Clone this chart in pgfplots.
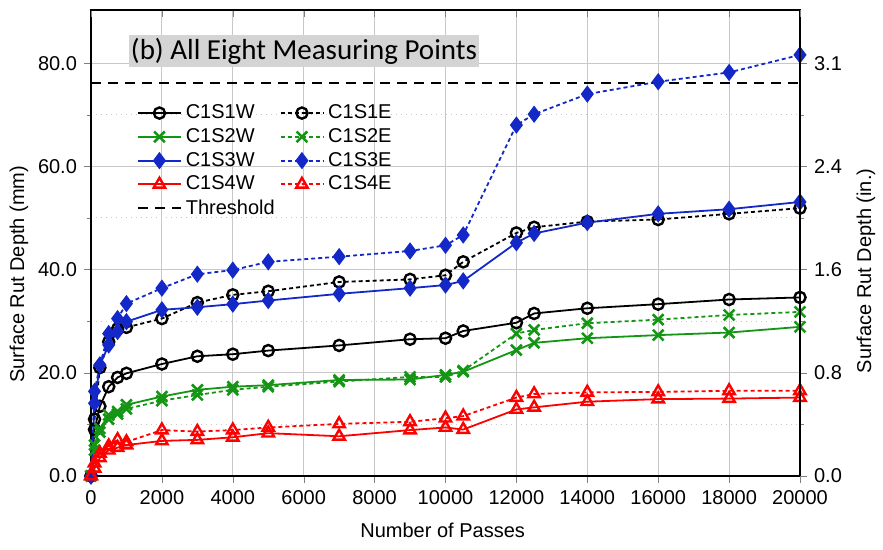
\documentclass[border=0pt]{standalone}
\usepackage{pgfplots}
\pgfplotsset{compat=1.18}
\usepackage{pgfplotstable}
\usetikzlibrary{calc}
\usepackage{fontspec}
\setmainfont{Liberation Sans}
\newfontfamily\calibri{Carlito}
\definecolor{cblack}{RGB}{0,0,0}
\definecolor{cgreen}{RGB}{20,150,20}
\definecolor{cblue}{RGB}{20,40,200}
\definecolor{cred}{RGB}{255,0,0}
\definecolor{gridgray}{RGB}{200,200,200}
\definecolor{titlegray}{RGB}{212,212,212}

\pgfplotstableread{
x S1W S1E S2W S2E S3W S3E S4W S4E
0 0 0 0 0 0 0 0 0
100 9.0 11.0 6.0 5.0 14.1 16.4 1.5 2.5
250 13.5 21.0 9.2 8.5 21.5 21.5 3.5 4.4
500 17.3 26.0 11.8 11.0 25.4 27.6 5.0 5.8
750 19.1 28.5 12.5 12.0 28.0 30.5 5.5 7.0
1000 19.9 28.8 13.8 13.0 29.9 33.4 6.0 6.6
2000 21.7 30.5 15.4 14.6 32.2 36.4 6.8 8.9
3000 23.2 33.6 16.7 15.7 32.7 39.1 7.0 8.6
4000 23.6 35.1 17.3 16.7 33.3 39.9 7.5 8.9
5000 24.3 35.8 17.6 17.3 34.0 41.5 8.3 9.4
7000 25.3 37.6 18.6 18.3 35.3 42.5 7.7 10.1
9000 26.5 38.1 18.7 19.2 36.4 43.6 8.9 10.5
10000 26.7 38.9 19.6 19.2 37.0 44.7 9.4 11.2
10500 28.1 41.5 20.2 20.4 37.8 46.7 9.0 11.6
12000 29.7 47.1 24.4 27.6 45.2 68.0 12.9 15.2
12500 31.5 48.2 25.8 28.3 47.0 70.1 13.3 15.9
14000 32.5 49.3 26.7 29.6 49.1 74.0 14.4 16.2
16000 33.3 49.7 27.3 30.3 50.8 76.4 14.9 16.3
18000 34.2 50.8 27.8 31.2 51.7 78.2 15.0 16.5
20000 34.6 51.9 28.9 31.8 53.1 81.6 15.2 16.5
}\rutdata

\pgfplotsset{
  common/.style={
    scale only axis, width=354.5pt, height=233pt,
    xmin=0, xmax=20000, ymin=0, ymax=90.3,
    scaled ticks=false,
    xtick={0,2000,...,20000}, ytick={0,20,40,60,80},
    /pgf/number format/assume math mode=true,
    tick label style={font=\fontsize{10}{12}\selectfont},
    label style={font=\fontsize{10.5}{12}\selectfont},
    major tick length=3.5pt, minor tick length=2.2pt,
  },
  wline/.style={solid, line width=0.9pt},
  eline/.style={line width=0.9pt, dash pattern=on 2pt off 1.5pt},
}

\begin{document}
\begin{tikzpicture}
\begin{axis}[common, name=main,
  axis line style={line width=0.9pt},
  tick align=outside, xtick pos=bottom, ytick pos=left,
  minor y tick num=1,
  grid=both,
  major grid style={gridgray, line width=0.6pt},
  minor grid style={gridgray, line width=0.5pt, dotted},
  xticklabel style={/pgf/number format/set thousands separator={}},
  yticklabel style={/pgf/number format/.cd, fixed, fixed zerofill, precision=1},
  xlabel={Number of Passes},
  ylabel={Surface Rut Depth (mm)},
  every axis x label/.style={at={(axis description cs:0.496,0)}, yshift=-27pt, anchor=center},
  every axis y label/.style={at={(axis description cs:0,0.433)}, xshift=-36pt, rotate=90, anchor=center},
  legend style={draw=none, fill=none, at={(0.056,0.815)}, anchor=north west,
    font=\fontsize{10}{12}\selectfont, legend columns=2,
    row sep=-0.6pt,
    /tikz/every even column/.append style={column sep=0.5pt}},
  legend cell align=left,
  legend image code/.code={\draw[mark repeat=2,mark phase=2] plot coordinates {(0cm,0cm) (0.375cm,0cm) (0.75cm,0cm)};},
]
\addplot[cblack, wline, mark=o, mark size=2.8pt, mark options={solid, line width=1.2pt}] table[x=x,y=S1W]{\rutdata};
\addlegendentry{C1S1W}
\addplot[cblack, eline, mark=o, mark size=2.8pt, mark options={solid, line width=1.2pt}] table[x=x,y=S1E]{\rutdata};
\addlegendentry{C1S1E}
\addplot[cgreen, wline, mark=x, mark size=3.8pt, mark options={solid, line width=1.3pt}] table[x=x,y=S2W]{\rutdata};
\addlegendentry{C1S2W}
\addplot[cgreen, eline, mark=x, mark size=3.8pt, mark options={solid, line width=1.3pt}] table[x=x,y=S2E]{\rutdata};
\addlegendentry{C1S2E}
\addplot[cblue, wline, mark=diamond*, mark size=3.7pt, mark options={solid, fill=cblue, line width=0.8pt}] table[x=x,y=S3W]{\rutdata};
\addlegendentry{C1S3W}
\addplot[cblue, eline, mark=diamond*, mark size=3.7pt, mark options={solid, fill=cblue, line width=0.8pt}] table[x=x,y=S3E]{\rutdata};
\addlegendentry{C1S3E}
\addplot[cred, wline, mark=triangle, mark size=3.3pt, mark options={solid, line width=1.2pt}] table[x=x,y=S4W]{\rutdata};
\addlegendentry{C1S4W}
\addplot[cred, eline, mark=triangle, mark size=3.3pt, mark options={solid, line width=1.2pt}] table[x=x,y=S4E]{\rutdata};
\addlegendentry{C1S4E}
\addplot[black, line width=1pt, dash pattern=on 5pt off 3.5pt] coordinates {(0,76.2) (20000,76.2)};
\addlegendentry{Threshold}
\node[anchor=west, fill=titlegray, inner xsep=1pt, inner ysep=1.5pt, font=\calibri\fontsize{14.5}{16}\selectfont] at (rel axis cs:0.053,0.912) {(b) All Eight Measuring Points};
\end{axis}
\begin{axis}[common,
  axis line style={line width=0.9pt},
  tick align=outside,
  axis x line=none, axis y line*=right,
  minor y tick num=1,
  yticklabels={0.0,0.8,1.6,2.4,3.1},
  ylabel={Surface Rut Depth (in.)},
  every axis y label/.style={at={(axis description cs:1,0.44)}, xshift=33pt, rotate=90, anchor=center},
]
\addplot[draw=none] coordinates {(0,0)};
\end{axis}
\begin{axis}[common,
  axis line style={line width=0.9pt},
  tick align=inside,
  axis y line=none, axis x line*=top,
  xticklabels={},
]
\addplot[draw=none] coordinates {(0,0)};
\end{axis}
\pgfresetboundingbox
\path[use as bounding box] ($(main.south west)+(-45.5pt,-37pt)$) rectangle ($(main.north east)+(41.5pt,5pt)$);
\end{tikzpicture}
\end{document}
